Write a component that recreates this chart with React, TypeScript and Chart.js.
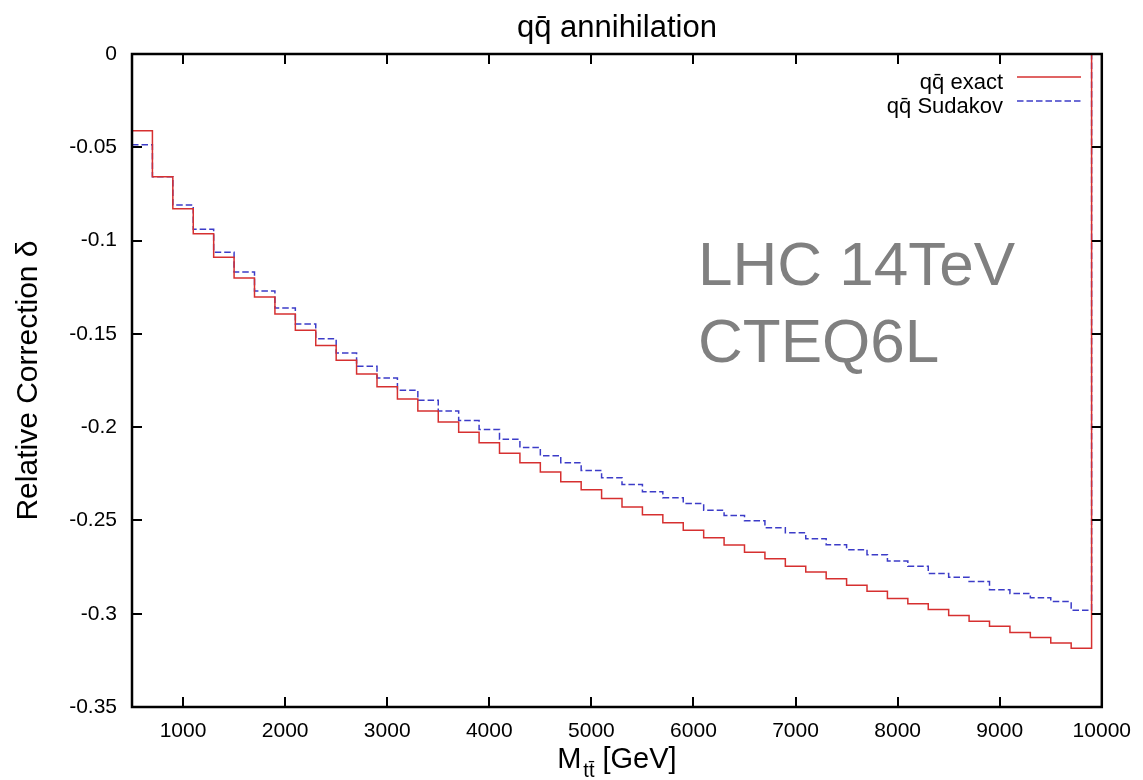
import React, { useEffect, useRef } from "react";
import { Chart, registerables } from "chart.js";

Chart.register(...registerables);

// ---- data ----
const binEdges = [
  500, 700, 900, 1100, 1300, 1500, 1700, 1900, 2100, 2300, 2500, 2700, 2900, 3100, 3300, 3500,
  3700, 3900, 4100, 4300, 4500, 4700, 4900, 5100, 5300, 5500, 5700, 5900, 6100, 6300, 6500,
  6700, 6900, 7100, 7300, 7500, 7700, 7900, 8100, 8300, 8500, 8700, 8900, 9100, 9300, 9500,
  9700, 9900,
];

const exactValues = [
  -0.0412, -0.0658, -0.083, -0.0964, -0.1089, -0.1201, -0.1303, -0.1394, -0.1481, -0.1563,
  -0.1642, -0.1715, -0.1784, -0.1849, -0.1913, -0.1972, -0.2027, -0.2084, -0.214, -0.2191,
  -0.2241, -0.2293, -0.2336, -0.2382, -0.2428, -0.247, -0.2512, -0.2553, -0.2593, -0.2632,
  -0.267, -0.2705, -0.2745, -0.2777, -0.2812, -0.2848, -0.288, -0.2918, -0.2946, -0.2978,
  -0.301, -0.3041, -0.3067, -0.3101, -0.3128, -0.3157, -0.3185,
];

const sudakovValues = [
  -0.0487, -0.0658, -0.081, -0.0939, -0.1062, -0.1169, -0.127, -0.1362, -0.1447, -0.1526,
  -0.1602, -0.1674, -0.1736, -0.1802, -0.1856, -0.1913, -0.1965, -0.2013, -0.2065, -0.2109,
  -0.2154, -0.2191, -0.2232, -0.2271, -0.2307, -0.2346, -0.2378, -0.2409, -0.2445, -0.2473,
  -0.2502, -0.2539, -0.2566, -0.2598, -0.263, -0.2657, -0.2684, -0.2718, -0.2745, -0.2785,
  -0.2805, -0.2828, -0.2871, -0.2891, -0.2914, -0.2935, -0.2982,
];

// histogram closes back to zero after the last bin
const closeValue = 0;

const xTicks = [1000, 2000, 3000, 4000, 5000, 6000, 7000, 8000, 9000, 10000];
const yTicks = [-0.35, -0.3, -0.25, -0.2, -0.15, -0.1, -0.05, 0];

const xMin = 500;
const xMax = 10000;
const yMin = -0.35;
const yMax = 0;

const chartTitle = "qq\u0304 annihilation";
const yTitle = "Relative Correction \u03b4";
const xTitleMain = "M";
const xTitleSub = "tt\u0304";
const xTitleUnit = " [GeV]";
const seriesNames = ["qq\u0304 exact", "qq\u0304 Sudakov"];
const annotationLines = ["LHC 14TeV", "CTEQ6L"];

const FONT = "'Liberation Sans', Arial, 'DejaVu Sans', sans-serif";
const RED = "rgb(214,48,48)";
const BLUE = "rgb(60,60,200)";
const BLUE_DASH = [6.5, 3];

function toPoints(values: number[]) {
  // one point per bin (lower edge, bin value), then close at the last edge
  const pts = values.map((y, i) => ({ x: binEdges[i], y }));
  const lastEdge = binEdges[binEdges.length - 1];
  pts.push({ x: lastEdge, y: values[values.length - 1] });
  pts.push({ x: lastEdge, y: closeValue });
  return pts;
}

const decorPlugin = {
  id: "decor",
  afterDraw(chart: any) {
    const { ctx, chartArea } = chart;
    const { left, right, top, bottom } = chartArea;
    const xs = chart.scales.x;
    const ys = chart.scales.y;
    ctx.save();

    // inward ticks
    ctx.strokeStyle = "#000";
    ctx.lineWidth = 2;
    const tl = 10;
    ctx.beginPath();
    xTicks.forEach((v) => {
      const px = Math.round(xs.getPixelForValue(v));
      ctx.moveTo(px, bottom);
      ctx.lineTo(px, bottom - tl);
      ctx.moveTo(px, top);
      ctx.lineTo(px, top + tl);
    });
    yTicks.forEach((v) => {
      const py = Math.round(ys.getPixelForValue(v));
      ctx.moveTo(left, py);
      ctx.lineTo(left + tl, py);
      ctx.moveTo(right, py);
      ctx.lineTo(right - tl, py);
    });
    ctx.stroke();

    // border
    ctx.lineWidth = 2.5;
    ctx.strokeRect(left, top, right - left, bottom - top);

    // title
    ctx.fillStyle = "#000";
    ctx.font = `31px ${FONT}`;
    ctx.textAlign = "center";
    ctx.textBaseline = "alphabetic";
    ctx.fillText(chartTitle, (left + right) / 2, 37);

    // y title
    ctx.save();
    ctx.translate(37, (top + bottom) / 2);
    ctx.rotate(-Math.PI / 2);
    ctx.font = `30px ${FONT}`;
    ctx.textAlign = "center";
    ctx.fillText(yTitle, 0, 0);
    ctx.restore();

    // x title with subscript
    ctx.textAlign = "left";
    const mainFont = `29px ${FONT}`;
    const subFont = `20px ${FONT}`;
    ctx.font = mainFont;
    const wM = ctx.measureText(xTitleMain).width;
    const wU = ctx.measureText(xTitleUnit).width;
    ctx.font = subFont;
    const wS = ctx.measureText(xTitleSub).width;
    const total = wM + 2 + wS + wU;
    let x0 = (left + right) / 2 - total / 2;
    const base = 768;
    ctx.font = mainFont;
    ctx.fillText(xTitleMain, x0, base);
    x0 += wM + 2;
    ctx.font = subFont;
    ctx.fillText(xTitleSub, x0, base + 9);
    x0 += wS;
    ctx.font = mainFont;
    ctx.fillText(xTitleUnit, x0, base);

    // legend (text left, sample right)
    ctx.font = `22px ${FONT}`;
    ctx.textAlign = "right";
    const legendRows = [
      { label: seriesNames[0], color: RED, dash: [] as number[], textY: 89, lineY: 77 },
      { label: seriesNames[1], color: BLUE, dash: BLUE_DASH, textY: 113, lineY: 101 },
    ];
    legendRows.forEach((r) => {
      ctx.fillStyle = "#000";
      ctx.fillText(r.label, 1003, r.textY);
      ctx.strokeStyle = r.color;
      ctx.lineWidth = 1.5;
      ctx.setLineDash(r.dash);
      ctx.beginPath();
      ctx.moveTo(1017, r.lineY);
      ctx.lineTo(1081, r.lineY);
      ctx.stroke();
    });
    ctx.setLineDash([]);

    // annotation
    ctx.font = `62px ${FONT}`;
    ctx.fillStyle = "rgb(128,128,128)";
    ctx.textAlign = "left";
    ctx.fillText(annotationLines[0], 698, 285);
    ctx.fillText(annotationLines[1], 698, 362);

    ctx.restore();
  },
};

export default function App() {
  const ref = useRef<HTMLCanvasElement | null>(null);

  useEffect(() => {
    document.body.style.margin = "0";
    const canvas = ref.current;
    if (!canvas) return;
    const chart = new Chart(canvas, {
      type: "line",
      data: {
        datasets: [
          {
            label: seriesNames[0],
            data: toPoints(exactValues),
            borderColor: RED,
            borderWidth: 1.5,
            stepped: "before",
            pointRadius: 0,
            fill: false,
          },
          {
            label: seriesNames[1],
            data: toPoints(sudakovValues),
            borderColor: BLUE,
            borderWidth: 1.5,
            borderDash: BLUE_DASH,
            stepped: "before",
            pointRadius: 0,
            fill: false,
          },
        ],
      },
      options: {
        animation: false,
        responsive: false,
        devicePixelRatio: 1,
        layout: { padding: { top: 54, right: 35, left: 0, bottom: 0 } },
        plugins: {
          legend: { display: false },
          tooltip: { enabled: false },
          title: { display: false },
        },
        scales: {
          x: {
            type: "linear",
            min: xMin,
            max: xMax,
            grid: { display: false, drawTicks: false },
            border: { display: false },
            afterBuildTicks: (s: any) => {
              s.ticks = xTicks.map((value) => ({ value }));
            },
            afterFit: (s: any) => {
              s.height = 73;
            },
            ticks: {
              autoSkip: false,
              maxRotation: 0,
              padding: 12,
              color: "#000",
              font: { family: FONT, size: 21 },
              callback: (v: any) => String(v),
            },
          },
          y: {
            type: "linear",
            min: yMin,
            max: yMax,
            grid: { display: false, drawTicks: false },
            border: { display: false },
            afterBuildTicks: (s: any) => {
              s.ticks = yTicks.map((value) => ({ value }));
            },
            afterFit: (s: any) => {
              s.width = 132;
            },
            ticks: {
              autoSkip: false,
              padding: 15,
              color: "#000",
              font: { family: FONT, size: 21 },
              callback: (v: any) => String(Number(Number(v).toFixed(2))),
            },
          },
        },
      },
      plugins: [decorPlugin],
    });
    return () => chart.destroy();
  }, []);

  return (
    <div style={{ width: 1143, height: 780, background: "#fff" }}>
      <canvas ref={ref} width={1143} height={780} style={{ display: "block" }} />
    </div>
  );
}
